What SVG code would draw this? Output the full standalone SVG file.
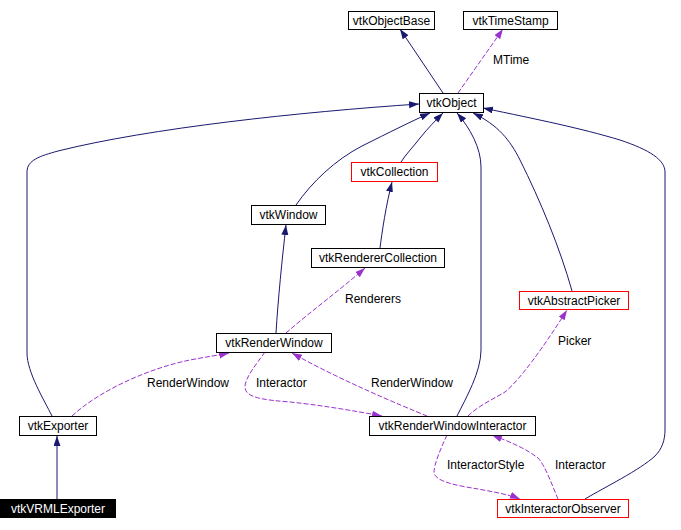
<svg xmlns="http://www.w3.org/2000/svg" width="681" height="530" viewBox="0 0 681 530">
<defs>
<style>
.node rect{fill:#ffffff;stroke:#000000;stroke-width:1}
.node.red rect{stroke:#ff0000}
.node.dark rect{fill:#000000;stroke:#000000}
text{font-family:"Liberation Sans",Arial,sans-serif;font-size:12px;fill:#000000}
.node text{text-anchor:middle}
.node.dark text{fill:#ffffff}
.inh{fill:none;stroke:#191970;stroke-width:1;marker-end:url(#ah)}
.use{fill:none;stroke:#9a32cd;stroke-width:1;stroke-dasharray:5,2;marker-end:url(#ap)}
</style>
<marker id="ah" markerUnits="userSpaceOnUse" markerWidth="11" markerHeight="8" refX="10" refY="3.5" orient="auto" viewBox="0 0 11 8">
<path d="M0,0 L10,3.5 L0,7 z" fill="#191970"/>
</marker>
<marker id="ap" markerUnits="userSpaceOnUse" markerWidth="11" markerHeight="8" refX="10" refY="3.5" orient="auto" viewBox="0 0 11 8">
<path d="M0,0 L10,3.5 L0,7 z" fill="#9a32cd"/>
</marker>
</defs>
<rect width="681" height="530" fill="#ffffff"/>
<g id="connectors">
<path class="inh" d="M443,93 L400,29"/>
<path class="use" d="M458,93 L503,29"/>
<path class="inh" d="M52,416 C44,400 27,372 27,353 L27,172 C27,160 40,156 58,151 C150,128 300,112 419,104"/>
<path class="inh" d="M296,205 C312,182 335,160 362,146 C390,132 410,122 430,113"/>
<path class="inh" d="M401,162 C406,154 414,146 420,138 C428,128 436,120 443,113"/>
<path class="inh" d="M457,416 C466,398 481,372 481,350 L481,167 C481,148 470,128 457,113"/>
<path class="inh" d="M572,291 C560,248 540,200 520,160 C510,140 498,125 473,113"/>
<path class="inh" d="M585,499 C605,487 640,470 655,456 C662,449 665,440 665,430 L665,172 C665,160 650,150 620,140 C580,128 540,120 483,108"/>
<path class="inh" d="M380,248 C382,232 386,205 392,182"/>
<path class="inh" d="M276,333 C278,300 282,260 286,225"/>
<path class="use" d="M286,333 C310,312 340,290 365,268"/>
<path class="use" d="M72,416 C100,390 150,368 190,360 C205,357 220,355 229,353"/>
<path class="use" d="M265,352 C255,366 245,378 245,387 C245,398 265,400 290,402 C320,405 355,411 382,416"/>
<path class="use" d="M427,416 C400,405 340,380 292,353"/>
<path class="use" d="M468,416 C478,406 495,398 505,392 C520,380 545,345 567,310"/>
<path class="use" d="M447,435 C440,450 434,465 434,472 C434,482 460,486 478,489 C495,492 510,495 520,499"/>
<path class="use" d="M558,499 C552,485 545,465 538,458 C525,448 510,442 492,435"/>
<path class="inh" d="M57,499 L57,436"/>
<text x="493" y="64">MTime</text>
<text x="345" y="303">Renderers</text>
<text x="147" y="387">RenderWindow</text>
<text x="256" y="387">Interactor</text>
<text x="371" y="387">RenderWindow</text>
<text x="558" y="345">Picker</text>
<text x="447" y="469">InteractorStyle</text>
<text x="555" y="469">Interactor</text>
</g>
<g id="vtkObjectBase" class="node"><rect x="348.5" y="11.5" width="86" height="18"/><text x="391.5" y="24.5">vtkObjectBase</text></g>
<g id="vtkTimeStamp" class="node"><rect x="463.5" y="11.5" width="94" height="18"/><text x="510.5" y="24.5">vtkTimeStamp</text></g>
<g id="vtkObject" class="node"><rect x="419.5" y="93.5" width="64" height="19"/><text x="451.5" y="107">vtkObject</text></g>
<g id="vtkCollection" class="node red"><rect x="351.5" y="162.5" width="86" height="19"/><text x="394.5" y="176">vtkCollection</text></g>
<g id="vtkWindow" class="node"><rect x="251.5" y="205.5" width="74" height="19"/><text x="288.5" y="219">vtkWindow</text></g>
<g id="vtkRendererCollection" class="node"><rect x="311.5" y="248.5" width="133" height="19"/><text x="378" y="262">vtkRendererCollection</text></g>
<g id="vtkRenderWindow" class="node"><rect x="216.5" y="333.5" width="115" height="19"/><text x="274" y="347">vtkRenderWindow</text></g>
<g id="vtkAbstractPicker" class="node red"><rect x="519.5" y="291.5" width="109" height="18"/><text x="574" y="304.5">vtkAbstractPicker</text></g>
<g id="vtkRenderWindowInteractor" class="node"><rect x="369.5" y="416.5" width="166" height="19"/><text x="452.5" y="430">vtkRenderWindowInteractor</text></g>
<g id="vtkInteractorObserver" class="node red"><rect x="497.5" y="499.5" width="131" height="18"/><text x="563" y="512.5">vtkInteractorObserver</text></g>
<g id="vtkExporter" class="node"><rect x="19.5" y="416.5" width="77" height="19"/><text x="58" y="430">vtkExporter</text></g>
<g id="vtkVRMLExporter" class="node dark"><rect x="0.5" y="499.5" width="115" height="18"/><text x="58" y="512.5">vtkVRMLExporter</text></g>
</svg>
